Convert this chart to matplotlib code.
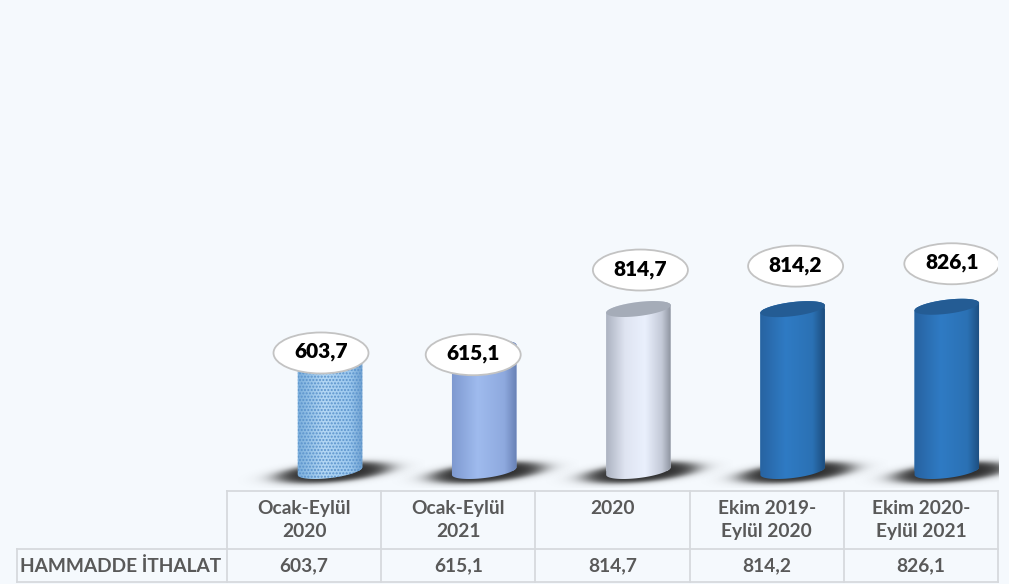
import numpy as np
import matplotlib
matplotlib.use("Agg")
import matplotlib.pyplot as plt
from matplotlib.patches import Ellipse, PathPatch, Polygon
from matplotlib.path import Path
from matplotlib.colors import LinearSegmentedColormap, to_rgb
from matplotlib.lines import Line2D

# ---------------- data ----------------
categories = ["Ocak-Eylül\n2020", "Ocak-Eylül\n2021", "2020",
              "Ekim 2019-\nEylül 2020", "Ekim 2020-\nEylül 2021"]
values = [603.7, 615.1, 814.7, 814.2, 826.1]
value_labels = ["603,7", "615,1", "814,7", "814,2", "826,1"]
row_label = "HAMMADDE İTHALAT"

# ---------------- styles ----------------
BG = "#f5f9fd"
FONT = ["Lato", "DejaVu Sans"]
plt.rcParams["font.family"] = FONT
plt.rcParams["hatch.linewidth"] = 1.0

body_stops = [
    [(0, "#7aaedc"), (0.4, "#b3d7f4"), (0.8, "#9cc8ee"), (1, "#6a9ccc")],
    [(0, "#7d98cf"), (0.4, "#9fbbee"), (0.8, "#8ea9de"), (1, "#647db1")],
    [(0, "#a9b0be"), (0.3, "#dfe4f1"), (0.6, "#eaf0fd"), (0.85, "#c3c9d7"), (1, "#878d99")],
    [(0, "#2762a0"), (0.4, "#2f7bc4"), (0.8, "#2b71b4"), (1, "#1b4a79")],
    [(0, "#2762a0"), (0.4, "#2f7bc4"), (0.8, "#2b71b4"), (1, "#1b4a79")],
]
top_colors = ["#8fbde6", "#7b94c8", "#a5acb8", "#245c94", "#245c94"]
base_colors = ["#9dc3e6", "#8faadc", "#dfe4ee", "#2e75b6", "#2e75b6"]
hatches = [".....", None, None, None, None]
# label ellipse offsets from bar top (pixels, +up)
label_offsets = [(-9, -2), (-11, -6), (2, 39), (3, 43), (5, 43)]

W, H = 1009, 584
fig = plt.figure(figsize=(W / 100, H / 100), dpi=100, facecolor=BG)

# table/background axes in pixel units
tax = fig.add_axes([0, 0, 1, 1], zorder=0)
tax.set_xlim(0, W)
tax.set_ylim(H, 0)
tax.axis("off")

ax = fig.add_axes([227 / W, (H - 488) / H, (998 - 227) / W, 488 / H], zorder=1)
ax.set_facecolor("none")
ax.axis("off")
col_shift = 0.168
XLIM = (-0.5 - col_shift, len(values) - 0.5 - col_shift)
YLIM = (-85.5, 2369)
ax.set_xlim(*XLIM)
ax.set_ylim(*YLIM)

x = np.arange(len(values))
bw = 0.4215
bars = ax.bar(x, values, bw, color=base_colors, linewidth=0, zorder=3)

p0 = ax.transData.transform((0, 0))
p1 = ax.transData.transform((1, 1))
sx, sy = p1[0] - p0[0], p1[1] - p0[1]

a_px = bw * sx / 2
b_px = 7.0
tilt = 7.0


def ell(cx, cy, a, b, th_deg, t):
    th = np.deg2rad(th_deg)
    dx = a * np.cos(t)
    dy = b * np.sin(t)
    rx = dx * np.cos(th) - dy * np.sin(th)
    ry = dx * np.sin(th) + dy * np.cos(th)
    return np.column_stack([cx + rx / sx, cy + ry / sy])


grad = np.linspace(0, 1, 256).reshape(1, -1)

for i, (xi, v) in enumerate(zip(x, values)):
    # shadow
    u = np.linspace(-95, 95, 191)
    w = np.linspace(-24, 24, 49)
    U, Wg = np.meshgrid(u, w)
    th = np.deg2rad(5)
    uu = U - 3
    ww = Wg + 1.5
    ur = uu * np.cos(th) + ww * np.sin(th)
    wr = -uu * np.sin(th) + ww * np.cos(th)
    d = np.sqrt((ur / 60) ** 2 + (wr / 10.5) ** 2)
    alpha = 0.95 / (1 + np.exp((d - 0.92) * 8))
    img = np.zeros(U.shape + (4,))
    img[..., :3] = to_rgb("#222222")
    img[..., 3] = alpha
    ax.imshow(img, origin="lower", aspect="auto", interpolation="bilinear",
              extent=[xi + u[0] / sx, xi + u[-1] / sx, w[0] / sy, w[-1] / sy],
              zorder=2)

    # cylinder silhouette
    bot = ell(xi, 0, a_px, b_px, tilt, np.linspace(np.pi, 2 * np.pi, 80))
    top = ell(xi, v, a_px, b_px, tilt, np.linspace(0, np.pi, 80))
    verts = np.vstack([bot, top, bot[:1]])
    codes = [Path.MOVETO] + [Path.LINETO] * (len(verts) - 2) + [Path.CLOSEPOLY]
    sil = PathPatch(Path(verts, codes), transform=ax.transData,
                    facecolor="none", edgecolor="none")
    ax.add_patch(sil)
    bars[i].set_clip_path(sil)

    cmap = LinearSegmentedColormap.from_list(f"c{i}", body_stops[i])
    ax.imshow(grad, cmap=cmap, aspect="auto", interpolation="bicubic",
              extent=[xi - a_px * 1.02 / sx, xi + a_px * 1.02 / sx,
                      -3 * b_px / sy, v + 3 * b_px / sy],
              clip_path=sil, zorder=3.1)
    if hatches[i]:
        hp = PathPatch(Path(verts, codes), transform=ax.transData,
                       facecolor="none", edgecolor="#5b93cc", linewidth=0,
                       hatch=hatches[i], zorder=3.2)
        ax.add_patch(hp)

    topv = ell(xi, v, a_px, b_px, tilt, np.linspace(0, 2 * np.pi, 120))
    ax.add_patch(Polygon(topv, closed=True, facecolor=top_colors[i],
                         edgecolor="none", zorder=3.3))

    # label ellipse
    dx, dy = label_offsets[i]
    lx, ly = xi + dx / sx, v + dy / sy
    ax.add_patch(Ellipse((lx, ly), 95 / sx, 41 / sy, facecolor="white",
                         edgecolor="#c3c3c3", linewidth=1.3, zorder=5))
    ax.text(lx, ly + 1 / sy, value_labels[i], ha="center", va="center",
            fontsize=15, fontweight="heavy", color="black", zorder=6)

ax.set_xlim(*XLIM)
ax.set_ylim(*YLIM)

# ---------------- table ----------------
def to_px(xd):
    return tax.transData.inverted().transform(ax.transData.transform((xd, 0)))[0]

bounds = [to_px(b) for b in np.arange(len(values) + 1) - 0.5 - col_shift]
centers = [to_px(c) for c in x - col_shift]
LC = "#d6d9dd"
LW = 1.3
y_top, y_mid, y_bot, x_left = 491, 549, 582, 17

tax.add_line(Line2D([bounds[0], bounds[-1]], [y_top, y_top], color=LC, lw=LW))
tax.add_line(Line2D([x_left, bounds[-1]], [y_mid, y_mid], color=LC, lw=LW))
tax.add_line(Line2D([x_left, bounds[-1]], [y_bot, y_bot], color=LC, lw=LW))
tax.add_line(Line2D([x_left, x_left], [y_mid, y_bot], color=LC, lw=LW))
for b in bounds:
    tax.add_line(Line2D([b, b], [y_top, y_bot], color=LC, lw=LW))

TC = "#595959"
TS = 13.8
for cx, cat, vl in zip(centers, categories, value_labels):
    for k, line in enumerate(cat.split("\n")):
        tax.text(cx, 514 + 23 * k, line, ha="center", va="baseline",
                 fontsize=TS, fontweight="bold", color=TC)
    tax.text(cx, 571.5, vl, ha="center", va="baseline",
             fontsize=TS, fontweight="bold", color=TC)
tax.text(20, 571.5, row_label, ha="left", va="baseline",
         fontsize=TS, fontweight="bold", color=TC)

fig.savefig("out.png", dpi=100, facecolor=BG)
